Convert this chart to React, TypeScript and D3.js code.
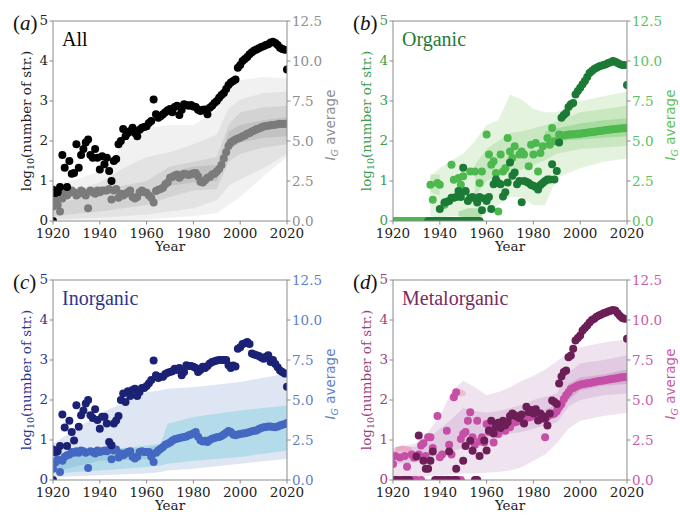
import React from 'react';
import * as d3 from 'd3';

// publication years on the x axis
const YEARS = d3.range(1920, 2021);
const _ = null;

// (a) All: log10(number of structures) and IG average
const allLog = [
  0.78, 0.70, 0.72, 0.85, 1.65, 1.33, 0.85, 1.50, 1.18, 1.20,
  1.92, 1.33, 1.65, 1.80, 1.96, 2.04, 1.65, 1.58, 1.80, 1.58,
  1.29, 1.62, 1.42, 1.58, 1.25, 1.00, 1.50, 1.55, 1.92, 2.00,
  2.30, 2.12, 2.20, 2.25, 2.33, 2.20, 2.12, 2.28, 2.33, 2.35,
  2.37, 2.45, 2.50, 3.04, 2.67, 2.58, 2.62, 2.67, 2.72, 2.77,
  2.80, 2.72, 2.85, 2.88, 2.65, 2.78, 2.92, 2.90, 2.88, 2.90,
  2.86, 2.85, 2.78, 2.75, 2.78, 2.79, 2.67, 2.83, 2.88, 2.95,
  3.00, 3.08, 3.15, 3.20, 3.30, 3.40, 3.46, 3.50, 3.54, 3.83,
  3.90, 4.00, 4.05, 4.10, 4.17, 4.22, 4.26, 4.29, 4.32, 4.35,
  4.37, 4.40, 4.42, 4.46, 4.48, 4.45, 4.40, 4.33, 4.30, 4.28,
  3.79,
];
const allLogZero = [1920];
const allIG = [
  0.90, 1.35, 1.00, 0.60, 1.40, 1.75, 1.60, 1.75, 1.90, 1.80,
  1.60, 1.70, 1.90, 1.80, 1.60, 0.80, 1.90, 1.80, 1.70, 1.90,
  1.80, 1.90, 1.90, 1.90, 2.00, 1.35, 1.90, 2.00, 1.45, 1.70,
  1.60, 1.70, 1.80, 1.90, 1.50, 1.40, 1.50, 1.80, 1.90, 1.80,
  1.77, 1.60, 1.46, 1.15, 1.88, 1.95, 2.00, 2.08, 2.30, 2.40,
  2.70, 2.75, 2.85, 2.90, 2.70, 2.85, 2.96, 2.92, 2.88, 2.92,
  2.98, 3.00, 2.80, 2.45, 2.40, 2.55, 2.70, 2.75, 2.90, 2.95,
  3.10, 3.25, 3.50, 3.90, 4.30, 4.69, 4.90, 5.00, 5.10, 5.15,
  5.20, 5.30, 5.35, 5.45, 5.50, 5.60, 5.65, 5.73, 5.78, 5.85,
  5.90, 5.94, 5.96, 5.98, 6.00, 6.02, 6.04, 6.08, 6.06, 6.08,
  6.08,
];
const allBandYears = [1920, 1930, 1940, 1950, 1960, 1970, 1980, 1990, 1993, 1995, 2000, 2010, 2020];
const allBand1Lo = [0.05, 0.05, 0.05, 0.05, 0.1, 0.2, 0.3, 0.5, 0.8, 1.0, 1.5, 2.8, 4.0];
const allBand1Hi = [2.27, 2.6, 3.1, 4.8, 5.8, 6.0, 6.0, 6.9, 8.1, 8.4, 8.8, 9.0, 8.9];
const allBand2Lo = [0.1, 0.15, 0.2, 0.3, 0.4, 0.6, 0.8, 1.3, 1.8, 2.2, 2.6, 3.3, 4.2];
const allBand2Hi = [1.5, 1.9, 2.4, 3.3, 4.0, 4.3, 4.8, 5.4, 6.4, 7.0, 7.6, 8.0, 8.1];
const allBand3Lo = [0.3, 0.45, 0.6, 0.8, 1.0, 1.5, 1.9, 2.0, 3.0, 3.7, 4.2, 4.6, 4.8];
const allBand3Hi = [1.0, 1.4, 1.9, 2.2, 2.5, 3.4, 3.7, 4.0, 5.2, 6.0, 6.8, 7.1, 7.2];
const allBand4Lo = [_, _, _, _, _, 2.2, 2.4, 2.5, 3.5, 4.4, 4.9, 5.2, 5.3];
const allBand4Hi = [_, _, _, _, _, 3.0, 3.4, 3.5, 4.6, 5.6, 6.0, 6.3, 6.5];

// (b) Organic
const orgLog = [
  _, _, _, _, _, _, _, _, _, _,
  _, _, _, _, _, _, _, _, _, _,
  0.30, _, 0.46, 0.48, 0.50, 0.58, 0.58, 0.60, 0.75, 0.60,
  1.33, 0.75, 0.50, 0.58, 0.60, 0.57, 0.46, 0.60, 0.27, 0.56,
  0.50, 0.60, 0.30, 0.92, 1.04, 0.95, 0.92, 0.61, 0.72, 0.96,
  1.46, 1.13, 1.21, 0.92, 1.00, 0.47, 1.00, 0.98, 0.95, 0.90,
  0.88, 0.85, 0.79, 0.90, 0.95, 1.00, 1.04, 1.04, 1.42, 1.04,
  1.25, 1.96, 2.58, 2.65, 2.70, 2.85, 2.92, 2.95, 3.16, 3.25,
  3.33, 3.42, 3.50, 3.60, 3.70, 3.75, 3.80, 3.83, 3.86, 3.88,
  3.90, 3.92, 3.95, 3.97, 4.00, 3.98, 3.95, 3.92, 3.90, 3.90,
  3.40,
];
const orgLogZero = [1935, 1936, 1937, 1938, 1939, 1940, 1941, 1942, 1943, 1944, 1945, 1946,
  1947, 1948, 1949, 1950, 1951, 1952, 1953, 1954, 1955, 1956, 1957];
const orgIG = [
  _, _, _, _, _, _, _, _, _, _,
  _, _, _, _, _, _, 2.27, 1.33, _, 2.38,
  2.27, _, 1.02, _, _, 3.52, 2.58, _, 2.69, 2.27,
  2.79, 1.85, _, 3.10, _, 3.10, _, 2.37, 3.10, _,
  5.40, 4.15, 3.52, 3.73, 3.00, 0.60, 4.15, 3.10, 3.30, 5.19,
  4.35, 3.94, 4.67, _, 4.15, 4.35, 4.15, _, 3.42, 4.77,
  4.15, 4.88, 3.10, 4.25, 4.67, _, 5.19, 4.77, 5.81, 4.98,
  _, 5.40, 5.35, 5.35, 5.38, 5.40, 5.40, 5.42, 5.42, 5.45,
  5.45, 5.48, 5.50, 5.52, 5.55, 5.55, 5.58, 5.60, 5.62, 5.64,
  5.66, 5.68, 5.70, 5.72, 5.74, 5.75, 5.77, 5.78, 5.80, 5.80,
  5.81,
];
const orgIGZero = [1920, 1921, 1922, 1923, 1924, 1925, 1926, 1927, 1928, 1929, 1930, 1931,
  1932, 1933, 1934, 1951];
const orgBandYears = [1936, 1940, 1945, 1950, 1955, 1960, 1965, 1970, 1975, 1980, 1985, 1990, 2000, 2010, 2020];
const orgBand1Lo = [0.3, 0.2, 0.3, 0.3, 0.5, 0.5, 1.0, 1.5, 1.5, 1.0, 1.0, 2.7, 3.3, 3.7, 3.9];
const orgBand1Hi = [2.8, 3.3, 3.8, 4.2, 5.0, 6.0, 6.3, 7.9, 7.6, 7.0, 6.8, 6.8, 7.5, 7.8, 8.1];
const orgBand2Lo = [1.8, 1.6, _, _, 1.5, 2.5, 2.8, 3.0, 3.2, 3.5, 3.8, 4.2, 4.5, 4.6, 4.7];
const orgBand2Hi = [2.9, 2.9, _, _, 3.5, 4.5, 5.0, 5.5, 5.6, 5.8, 6.0, 6.2, 6.8, 7.0, 7.2];
const orgBand3Lo = [_, _, _, _, _, _, _, _, _, _, 4.8, 5.0, 5.1, 5.2, 5.3];
const orgBand3Hi = [_, _, _, _, _, _, _, _, _, _, 5.6, 5.8, 6.1, 6.3, 6.4];
const orgPatchYears = [1948, 1952, 1956, 1958];
const orgPatchLo = [0.3, 0.2, 0.2, 0.3];
const orgPatchHi = [0.6, 0.8, 0.8, 0.6];

// (c) Inorganic
const incLog = [
  0.76, 0.70, 0.72, 0.85, 1.64, 1.31, 0.85, 1.48, 1.20, 0.99,
  1.87, 1.33, 1.62, 1.74, 1.91, 2.00, 1.62, 1.55, 1.77, 1.50,
  1.28, 1.58, 1.58, 1.41, 0.95, 0.87, 1.41, 1.49, 1.60, 2.00,
  2.16, 1.95, 2.22, 2.10, 2.25, 2.28, 2.10, 2.20, 2.30, 2.30,
  2.35, 2.42, 2.50, 2.99, 2.62, 2.55, 2.58, 2.58, 2.65, 2.68,
  2.70, 2.72, 2.78, 2.75, 2.80, 2.62, 2.70, 2.87, 2.85, 2.85,
  2.83, 2.80, 2.70, 2.75, 2.83, 2.80, 2.85, 2.91, 2.95, 2.97,
  2.99, 3.00, 3.00, 3.00, 3.00, 2.87, 2.80, 2.86, 2.84, 3.28,
  3.32, 3.40, 3.42, 3.45, 3.40, 3.16, 3.14, 3.12, 3.10, 3.06,
  3.03, 3.08, 3.12, 2.95, 3.00, 2.90, 2.82, 2.74, 2.70, 2.66,
  2.33,
];
const incLogZero = [1920];
const incIG = [
  0.70, 1.10, 1.30, 0.50, 1.20, 1.45, 1.55, 1.60, 1.75, 1.70,
  1.80, 1.70, 1.85, 1.80, 1.70, 0.75, 1.80, 1.75, 1.65, 1.85,
  1.75, 1.80, 1.85, 1.80, 1.90, 1.30, 1.85, 1.90, 1.40, 1.65,
  1.55, 1.65, 1.75, 1.80, 1.45, 1.35, 1.45, 1.75, 1.80, 1.75,
  1.75, 1.75, 1.45, 1.12, 1.70, 1.85, 1.95, 2.06, 2.20, 2.27,
  2.35, 2.45, 2.55, 2.58, 2.62, 2.65, 2.69, 2.72, 2.80, 2.85,
  2.90, 3.00, 2.70, 2.48, 2.40, 2.45, 2.37, 2.50, 2.58, 2.62,
  2.67, 2.69, 2.75, 2.85, 2.95, 3.06, 3.00, 2.85, 2.79, 2.85,
  2.88, 2.90, 2.92, 2.95, 3.00, 3.05, 3.08, 3.10, 3.18, 3.25,
  3.30, 3.32, 3.35, 3.34, 3.32, 3.30, 3.35, 3.40, 3.45, 3.50,
  3.56,
];
const incBandYears = [1920, 1940, 1960, 1966, 1969, 1980, 2000, 2020];
const incBand1Lo = [0.19, 0.3, 0.4, 0.5, 0.6, 0.71, 1.02, 1.33];
const incBand1Hi = [2.27, 4.15, 5.5, 5.6, 5.7, 5.8, 6.13, 6.65];
const incBand2Lo = [0.4, 0.6, 0.81, 0.9, 1.02, 1.2, 1.44, 1.85];
const incBand2Hi = [1.44, 1.85, 2.16, 2.27, 3.52, 3.94, 4.35, 4.66];
const incBand3Lo = [0.5, 1.2, 1.3, 1.5, _, _, _, _];
const incBand3Hi = [1.1, 1.9, 2.0, 2.2, _, _, _, _];

// (d) Metalorganic
const metLog = [
  _, _, _, _, _, _, _, _, _, _,
  0.59, 1.11, _, 0.48, 0.28, 0.28, 0.48, 0.71, _, _,
  _, _, _, _, 0.71, _, _, 0.28, _, _,
  0.48, 0.85, _, 0.98, 0.73, _, _, 0.60, _, 0.99,
  0.74, 1.24, 1.48, 1.16, 1.33, 1.43, 1.30, 1.48, 1.37, 1.45,
  1.60, 1.66, 1.62, 1.58, 1.55, 1.64, 1.41, 1.83, 1.70, 1.75,
  1.66, 1.76, 1.49, 1.66, 1.60, 1.53, 1.36, 1.66, 1.99, 1.95,
  1.90, 2.41, 2.59, 2.70, 2.74, 3.07, 3.11, 3.28, 3.49, 3.55,
  3.61, 3.74, 3.80, 3.86, 3.94, 4.00, 4.03, 4.08, 4.11, 4.14,
  4.17, 4.19, 4.21, 4.23, 4.25, 4.24, 4.17, 4.10, 4.05, 4.03,
  3.53,
];
const metLogZero = [1921, 1922, 1924, 1925, 1926, 1927, 1938, 1939, 1941, 1943, 1944, 1946,
  1947, 1955, 1956];
const metIG = [
  1.00, 1.50, _, 1.40, _, 1.50, 0.83, _, 1.60, 1.40,
  _, 1.60, 2.15, 2.30, 1.50, 2.67, 2.67, 2.00, _, 4.00,
  1.42, 1.60, _, 3.08, 2.20, 1.60, 5.17, 5.48, _, 2.56,
  2.88, 3.00, 3.70, 4.23, 2.67, 2.20, 3.70, 2.40, 2.67, 2.35,
  3.50, 3.00, 3.29, 2.35, 3.20, 2.88, 3.10, 3.40, 3.08, 3.40,
  3.30, 3.70, 3.60, 3.65, 3.75, 3.70, 3.60, 4.02, 3.90, 3.95,
  4.12, 4.44, 3.95, 3.80, 3.90, 2.67, 3.95, 4.10, 4.10, 4.15,
  4.29, 4.54, 4.75, 5.06, 5.30, 5.48, 5.69, 5.75, 5.83, 5.90,
  5.95, 6.00, 6.02, 6.05, 6.07, 6.10, 6.12, 6.15, 6.18, 6.20,
  6.22, 6.25, 6.28, 6.30, 6.33, 6.35, 6.38, 6.40, 6.42, 6.44,
  6.46,
];
const metIGZero = [1920, 1923, 1928, 1929, 1930, 1932, 1940, 1942, 1945, 1948, 1949];
const metBandYears = [1920, 1930, 1935, 1940, 1945, 1950, 1955, 1960, 1965, 1970, 1975, 1980, 1985, 1990, 1995, 2000, 2010, 2020];
const metBand1Lo = [0.2, 0.2, 0.25, 0.3, 0.35, 0.4, 0.4, 0.45, 0.5, 0.6, 0.8, 1.2, 1.6, 2.3, 3.2, 3.7, 4.0, 4.2];
const metBand1Hi = [2.0, 2.3, 3.0, 4.0, 5.5, 6.2, 5.8, 5.3, 5.5, 5.8, 6.2, 6.5, 6.9, 7.4, 8.0, 8.3, 8.6, 8.8];
const metBand2Lo = [1.0, 1.1, 1.3, 1.6, 1.8, 2.0, 2.1, 2.3, 2.6, 2.9, 3.0, 3.2, 3.4, 3.6, 4.6, 5.0, 5.3, 5.4];
const metBand2Hi = [1.9, 2.1, 2.6, 3.2, 3.8, 4.5, 4.3, 4.2, 4.3, 4.5, 4.7, 5.0, 5.2, 5.4, 6.7, 7.3, 7.5, 7.8];
const metBand3Lo = [_, _, _, _, _, _, _, _, _, _, _, _, 3.7, 4.0, 5.0, 5.6, 5.9, 6.0];
const metBand3Hi = [_, _, _, _, _, _, _, _, _, _, _, _, 4.4, 4.7, 6.0, 6.4, 6.6, 6.9];
const metPatch1Years = [1921, 1924, 1928];
const metPatch1Lo = [1.75, 1.8, 1.75];
const metPatch1Hi = [2.05, 2.15, 2.05];
const metPatch2Years = [1947, 1949, 1951];
const metPatch2Lo = [5.3, 5.2, 5.3];
const metPatch2Hi = [5.6, 5.7, 5.5];

const LEFT_TICKS = [0, 1, 2, 3, 4, 5];
const RIGHT_TICKS = [0, 2.5, 5, 7.5, 10, 12.5];
const YEAR_TICKS = [1920, 1940, 1960, 1980, 2000, 2020];

type Val = number | null;
type Band = { years: number[]; lo: Val[]; hi: Val[]; color: string };

const PW = 234;
const PH = 200;
const SPINE = '#8c8c8c';
const SERIF = '"DejaVu Serif", serif';

const panels = [
  {
    id: 'a', title: 'All', left: 53, top: 21,
    dark: allLog, light: allIG, darkZero: allLogZero, lightZero: [] as number[],
    darkColor: '#000000', lightColor: '#7b7b7b', leftColor: '#222222', rightColor: '#8e8e8e', titleColor: '#000000',
    bands: [
      { years: allBandYears, lo: allBand1Lo, hi: allBand1Hi, color: '#f1f1f1' },
      { years: allBandYears, lo: allBand2Lo, hi: allBand2Hi, color: '#e3e3e3' },
      { years: allBandYears, lo: allBand3Lo, hi: allBand3Hi, color: '#d3d3d3' },
      { years: allBandYears, lo: allBand4Lo, hi: allBand4Hi, color: '#c2c2c2' },
    ] as Band[],
  },
  {
    id: 'b', title: 'Organic', left: 393, top: 21,
    dark: orgLog, light: orgIG, darkZero: orgLogZero, lightZero: orgIGZero,
    darkColor: '#1b7a35', lightColor: '#4cb84e', leftColor: '#3b9d4e', rightColor: '#5cbf5c', titleColor: '#1f7a3b',
    bands: [
      { years: orgBandYears, lo: orgBand1Lo, hi: orgBand1Hi, color: '#e4f3de' },
      { years: orgBandYears, lo: orgBand2Lo, hi: orgBand2Hi, color: '#c9e8c1' },
      { years: orgBandYears, lo: orgBand3Lo, hi: orgBand3Hi, color: '#a8db9f' },
      { years: orgPatchYears, lo: orgPatchLo, hi: orgPatchHi, color: '#b5dfae' },
    ] as Band[],
  },
  {
    id: 'c', title: 'Inorganic', left: 53, top: 280,
    dark: incLog, light: incIG, darkZero: incLogZero, lightZero: [] as number[],
    darkColor: '#1b2275', lightColor: '#4468c2', leftColor: '#2c3590', rightColor: '#5f80c8', titleColor: '#2b3590',
    bands: [
      { years: incBandYears, lo: incBand1Lo, hi: incBand1Hi, color: '#dfe6f3' },
      { years: incBandYears, lo: incBand2Lo, hi: incBand2Hi, color: '#b3dbe9' },
      { years: incBandYears, lo: incBand3Lo, hi: incBand3Hi, color: '#9fcbe1' },
    ] as Band[],
  },
  {
    id: 'd', title: 'Metalorganic', left: 393, top: 280,
    dark: metLog, light: metIG, darkZero: metLogZero, lightZero: metIGZero,
    darkColor: '#6c1e56', lightColor: '#c64fa6', leftColor: '#9b3f7b', rightColor: '#c95aaa', titleColor: '#7b2a62',
    bands: [
      { years: metBandYears, lo: metBand1Lo, hi: metBand1Hi, color: '#efe3ef' },
      { years: metBandYears, lo: metBand2Lo, hi: metBand2Hi, color: '#e2cbe2' },
      { years: metBandYears, lo: metBand3Lo, hi: metBand3Hi, color: '#d5add4' },
      { years: metPatch1Years, lo: metPatch1Lo, hi: metPatch1Hi, color: '#eaa9c3' },
      { years: metPatch2Years, lo: metPatch2Lo, hi: metPatch2Hi, color: '#f1bcd3' },
    ] as Band[],
  },
];

type PanelCfg = typeof panels[number];

function Panel({ p }: { p: PanelCfg }) {
  const x = d3.scaleLinear().domain([1920, 2020]).range([p.left, p.left + PW]);
  const yL = d3.scaleLinear().domain([0, 5]).range([p.top + PH, p.top]);
  const yR = d3.scaleLinear().domain([0, 12.5]).range([p.top + PH, p.top]);
  const right = p.left + PW;
  const bottom = p.top + PH;
  const clip = `clip-${p.id}`;

  const bandPath = (b: Band) =>
    d3.area<number>()
      .defined(i => b.lo[i] != null && b.hi[i] != null)
      .x(i => x(b.years[i]))
      .y0(i => yR(b.lo[i] as number))
      .y1(i => yR(b.hi[i] as number))(d3.range(b.years.length)) || '';

  const r = 4;

  return (
    <g>
      <defs>
        <clipPath id={clip}>
          <rect x={p.left} y={p.top} width={PW} height={PH} />
        </clipPath>
      </defs>
      <g clipPath={`url(#${clip})`}>
        {p.bands.map((b, i) => (
          <path key={i} d={bandPath(b)} fill={b.color} stroke="none" />
        ))}
        {p.lightZero.map((yr, i) => (
          <circle key={'lz' + i} cx={x(yr)} cy={yR(0)} r={r} fill={p.lightColor} />
        ))}
        {YEARS.map((yr, i) => p.light[i] == null ? null : (
          <circle key={'l' + i} cx={x(yr)} cy={yR(p.light[i] as number)} r={r} fill={p.lightColor} />
        ))}
        {p.darkZero.map((yr, i) => (
          <circle key={'dz' + i} cx={x(yr)} cy={yL(0)} r={r} fill={p.darkColor} />
        ))}
        {YEARS.map((yr, i) => p.dark[i] == null ? null : (
          <circle key={'d' + i} cx={x(yr)} cy={yL(p.dark[i] as number)} r={r} fill={p.darkColor} />
        ))}
      </g>
      <rect x={p.left} y={p.top} width={PW} height={PH} fill="none" stroke={SPINE} strokeWidth={1} />

      {/* left axis */}
      {LEFT_TICKS.map(t => (
        <g key={'lt' + t}>
          <line x1={p.left - 3.5} x2={p.left} y1={yL(t)} y2={yL(t)} stroke={SPINE} />
          <text x={p.left - 5} y={yL(t) - 1} dy="0.35em" textAnchor="end" fontFamily={SERIF} fontSize={13.5} fill={p.leftColor}>{t}</text>
        </g>
      ))}
      {/* right axis */}
      {RIGHT_TICKS.map(t => (
        <g key={'rt' + t}>
          <line x1={right} x2={right + 3.5} y1={yR(t)} y2={yR(t)} stroke={SPINE} />
          <text x={right + 5} y={yR(t)} dy="0.35em" textAnchor="start" fontFamily={SERIF} fontSize={13.5} fill={p.rightColor}>{d3.format('.1f')(t)}</text>
        </g>
      ))}
      {/* bottom axis */}
      {YEAR_TICKS.map(t => (
        <g key={'xt' + t}>
          <line x1={x(t)} x2={x(t)} y1={bottom} y2={bottom + 3.5} stroke={SPINE} />
          <text x={x(t)} y={bottom + 17} textAnchor="middle" fontFamily={SERIF} fontSize={13.5} fill="#222">{t}</text>
        </g>
      ))}
      <text x={p.left + PW / 2} y={bottom + 29.5} textAnchor="middle" fontFamily={SERIF} fontSize={13.5} fill="#222">Year</text>

      {/* axis titles */}
      <text transform={`translate(${p.left - 22},${p.top + PH / 2}) rotate(-90)`} textAnchor="middle"
        fontFamily={SERIF} fontSize={13.5} fill={p.leftColor}>
        <tspan>log</tspan><tspan fontSize={9.5} dy={3}>10</tspan><tspan dy={-3}>(number of str.)</tspan>
      </text>
      <text transform={`translate(${right + 48},${p.top + PH / 2 + 4}) rotate(-90)`} textAnchor="middle"
        fontFamily='"DejaVu Sans", sans-serif' fontSize={13.5} fill={p.rightColor}>
        <tspan fontStyle="italic">I</tspan><tspan fontStyle="italic" fontSize={9.5} dy={3}>G</tspan><tspan dy={-3}> average</tspan>
      </text>

      {/* panel letter and title */}
      <text x={p.left - 40} y={p.top + 9} fontFamily='"Liberation Serif", serif' fontSize={21} fill="#111">
        <tspan>(</tspan><tspan fontStyle="italic">{p.id}</tspan><tspan>)</tspan>
      </text>
      <text x={p.left + 9} y={p.top + 25} fontFamily='"Liberation Serif", serif' fontSize={20} fill={p.titleColor}>{p.title}</text>
    </g>
  );
}

export default function App() {
  return (
    <svg width={680} height={517} viewBox="0 0 680 517"
      style={{ position: 'absolute', left: 0, top: 0, background: '#fff' }}>
      <rect width={680} height={517} fill="#fff" />
      {panels.map(p => <Panel key={p.id} p={p} />)}
    </svg>
  );
}
